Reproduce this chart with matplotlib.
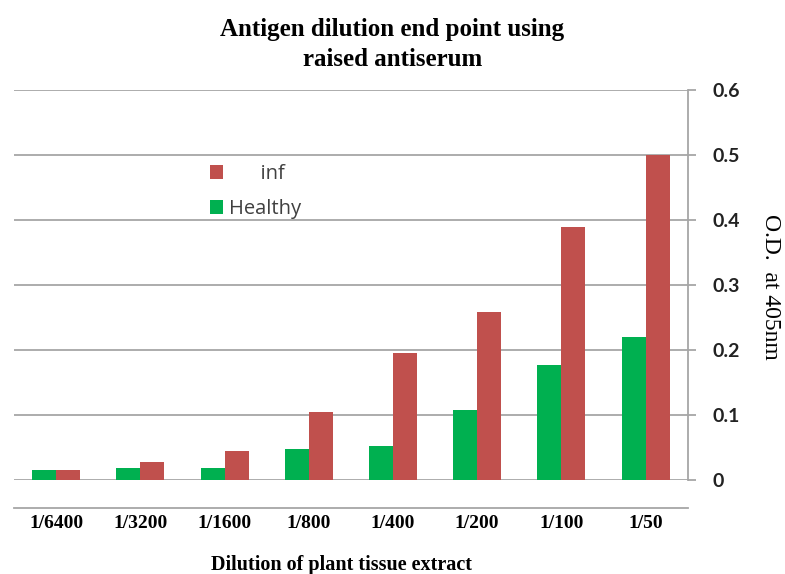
import numpy as np
import matplotlib
matplotlib.use("Agg")
import matplotlib.pyplot as plt

# dilutions and O.D. readings
diluciones = ["1/6400", "1/3200", "1/1600", "1/800", "1/400", "1/200", "1/100", "1/50"]
sano = [0.015, 0.018, 0.018, 0.048, 0.052, 0.107, 0.177, 0.220]
infectado = [0.015, 0.028, 0.044, 0.104, 0.195, 0.258, 0.389, 0.500]

verde = "#00B050"
rojo = "#C0504D"
gris = "#A6A6A6"

fig = plt.figure(figsize=(7.85, 5.74), dpi=100)
ax = fig.add_axes([0.018, 0.164, 0.858, 0.679])

x = np.arange(len(diluciones))
ancho = 0.285
b_sano = ax.bar(x - ancho / 2, sano, ancho, color=verde, zorder=3)
b_inf = ax.bar(x + ancho / 2, infectado, ancho, color=rojo, zorder=3)

ax.set_xlim(-0.5, len(diluciones) - 0.5)
ax.set_ylim(0, 0.6)
ax.set_yticks(np.arange(0, 0.61, 0.1))
ax.set_yticklabels(["0", "0.1", "0.2", "0.3", "0.4", "0.5", "0.6"])
ax.yaxis.tick_right()
ax.grid(axis="y", color=gris, linewidth=1.3, zorder=0)

for lado in ["top", "left"]:
    ax.spines[lado].set_visible(False)
ax.spines["right"].set_color(gris)
ax.spines["right"].set_linewidth(1.3)
ax.spines["bottom"].set_position(("outward", 20))
ax.spines["bottom"].set_color(gris)
ax.spines["bottom"].set_linewidth(1.3)

ax.tick_params(axis="y", length=6, width=1.3, color=gris, pad=12)
for t in ax.get_yticklabels():
    t.set_fontfamily("Lato")
    t.set_fontweight("bold")
    t.set_fontsize(14)
    t.set_color("#222222")

ax.set_xticks(x)
ax.set_xticklabels(diluciones, fontfamily="Liberation Serif", fontweight="bold", fontsize=14)
ax.tick_params(axis="x", length=0, pad=5)

# y axis title, to the right of the tick labels
fig.text(0.982, 0.50, "O.D.  at 405nm", fontfamily="Liberation Serif", fontsize=17,
         rotation=-90, ha="center", va="center")

fig.text(0.435, 0.016, "Dilution of plant tissue extract", fontfamily="Liberation Serif",
         fontweight="bold", fontsize=14.5, ha="center", va="center")
fig.text(0.50, 0.968, "Antigen dilution end point using\nraised antiserum",
         fontfamily="Liberation Serif", fontweight="bold", fontsize=18,
         ha="center", va="top", linespacing=1.35)

leg = ax.legend([b_inf, b_sano], ["      inf", "Healthy"], loc="upper left",
                bbox_to_anchor=(0.264, 0.857), frameon=False, handlelength=0.65,
                handleheight=0.65, handletextpad=0.3, labelspacing=0.75,
                prop={"family": "Open Sans", "size": 14.5})
for t in leg.get_texts():
    t.set_color("#404040")

fig.savefig("out.png", dpi=100)
